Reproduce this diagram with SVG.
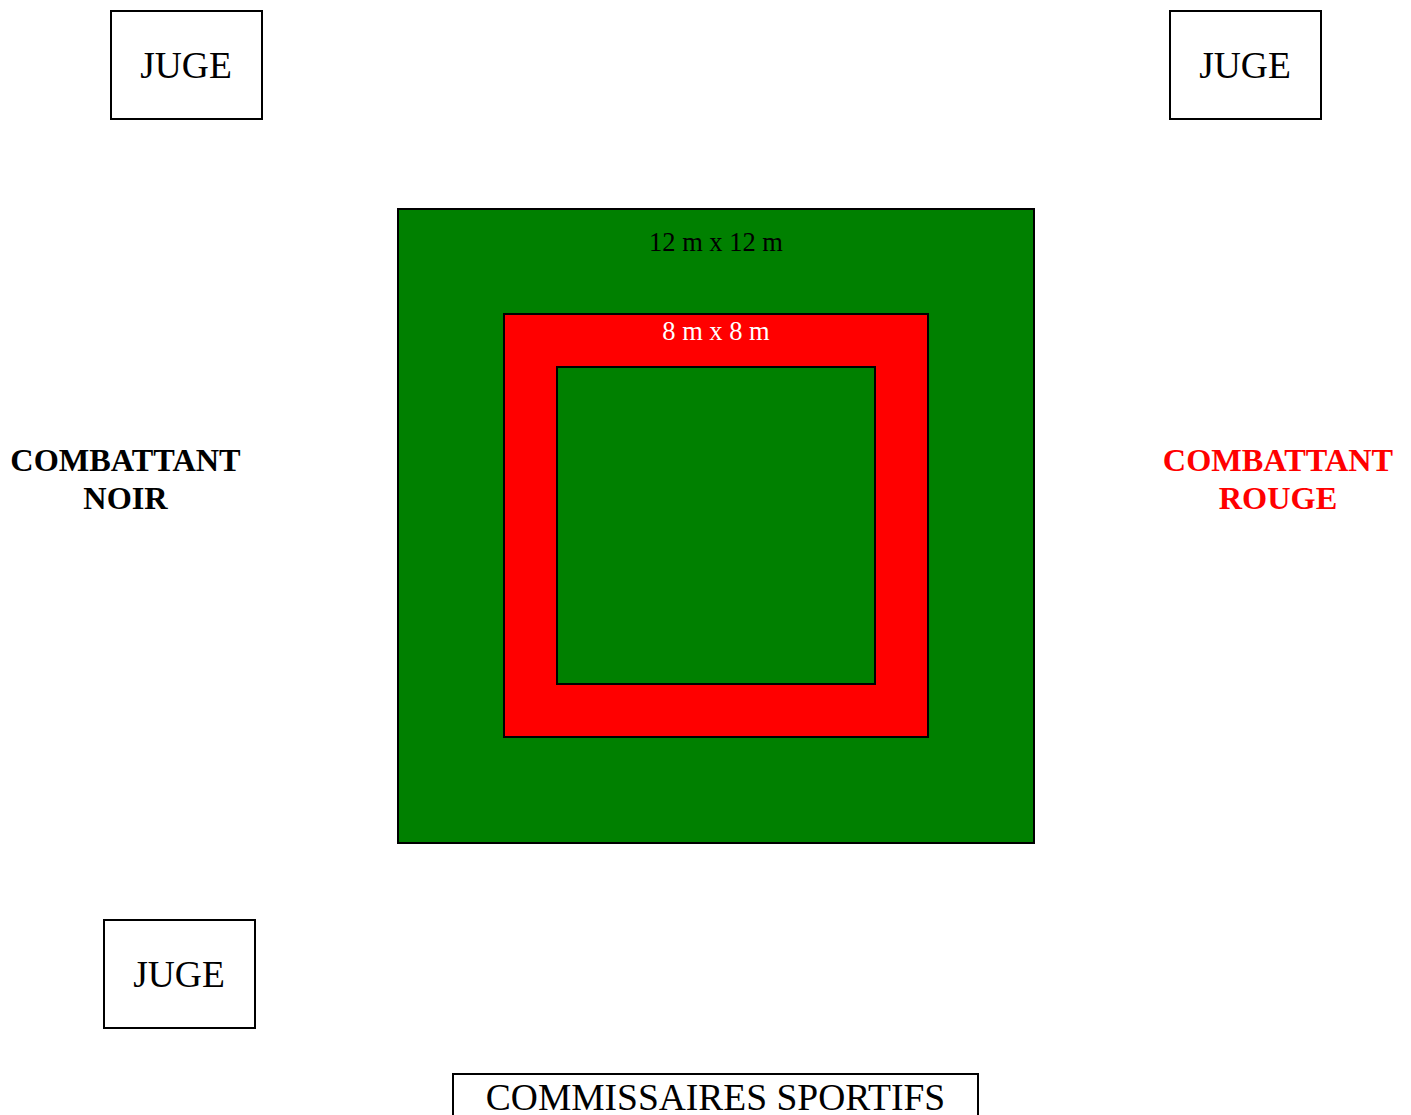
<svg xmlns="http://www.w3.org/2000/svg" width="1411" height="1115" viewBox="0 0 1411 1115">
<style>
.box{fill:#fff;stroke:#000;stroke-width:2}
.area{stroke:#000;stroke-width:2}
.t{font-family:"Liberation Serif","Times New Roman",serif;text-anchor:middle}
.j{font-size:37.5px;fill:#000}
.b{font-size:32.3px;font-weight:bold}
</style>
<rect width="1411" height="1115" fill="#fff"/>
<g id="tatami">
<rect class="area" x="398" y="209" width="636" height="634" fill="#008000"/>
<text class="t" x="716" y="251" font-size="26.5" fill="#000">12 m x 12 m</text>
</g>
<g id="zone-combat">
<rect class="area" x="504" y="314" width="424" height="423" fill="#ff0000"/>
<text class="t" x="716" y="340" font-size="26.5" fill="#fff">8 m x 8 m</text>
<rect class="area" x="557" y="367" width="318" height="317" fill="#008000"/>
</g>
<g id="juge1">
<rect class="box" x="111" y="11" width="151" height="108"/>
<text class="t j" x="186" y="78">JUGE</text>
</g>
<g id="juge2">
<rect class="box" x="1170" y="11" width="151" height="108"/>
<text class="t j" x="1245" y="78">JUGE</text>
</g>
<g id="juge3">
<rect class="box" x="104" y="920" width="151" height="108"/>
<text class="t j" x="179" y="987">JUGE</text>
</g>
<g id="combattant-noir">
<text class="t b" x="125.5" y="471" fill="#000">COMBATTANT</text>
<text class="t b" x="125.5" y="509" fill="#000">NOIR</text>
</g>
<g id="combattant-rouge">
<text class="t b" x="1278" y="471" fill="#ff0000">COMBATTANT</text>
<text class="t b" x="1278" y="509" fill="#ff0000">ROUGE</text>
</g>
<g id="commissaires">
<rect class="box" x="453" y="1074" width="525" height="60"/>
<text class="t j" x="715.5" y="1110">COMMISSAIRES SPORTIFS</text>
</g>
<g id="connectors"></g>
</svg>
